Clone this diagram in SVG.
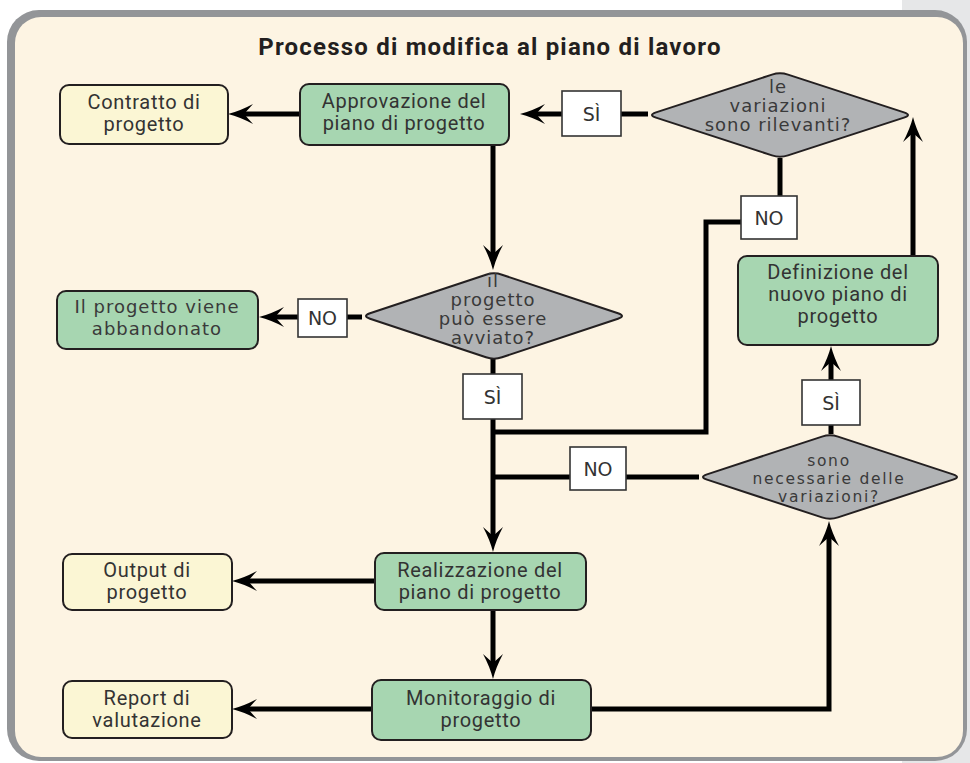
<svg xmlns="http://www.w3.org/2000/svg" width="970" height="763" viewBox="0 0 970 763">
<style>
.rect{stroke:#231f20;stroke-width:2}
.green{fill:#a7d6b1}
.yellow{fill:#fbf6d4}
.dia{fill:#b1b3b5;stroke:#231f20;stroke-width:2;stroke-linejoin:round}
.lab{fill:#ffffff;stroke:#333;stroke-width:1.6}
.din{font-family:Roboto,"DejaVu Sans Condensed",sans-serif;font-size:20px;fill:#333;text-anchor:middle;letter-spacing:0.7px}
.dv{font-family:"DejaVu Sans",sans-serif;font-size:18px;fill:#3a3a3a;text-anchor:middle;letter-spacing:1px}
.dv2{font-family:"DejaVu Sans",sans-serif;font-size:15.5px;fill:#3a3a3a;text-anchor:middle;letter-spacing:1.7px}
.lt{font-family:"DejaVu Sans",sans-serif;font-size:19px;fill:#333;text-anchor:middle}
.conn path,.conn line{stroke:#000;stroke-width:5;fill:none;stroke-linejoin:miter}
</style>
<defs>
<marker id="arr" markerUnits="userSpaceOnUse" viewBox="-14 -11 27 22" refX="0" refY="0" markerWidth="27" markerHeight="22" orient="auto">
<path d="M12,0 Q0,-3 -13,-10 L-4,0 L-13,10 Q0,3 12,0 Z" fill="#000"/>
</marker>
</defs>
<rect x="0" y="0" width="970" height="763" fill="#ffffff"/>
<rect x="902" y="0" width="68" height="763" fill="#e6e7e8"/>
<rect x="7" y="10" width="960" height="751" rx="32" fill="#939598"/>
<rect x="15" y="17" width="948" height="740" rx="26" fill="#fdf4e3"/>
<text x="490" y="55" style="font-family:Roboto,'DejaVu Sans Condensed',sans-serif;font-weight:bold;font-size:24px;fill:#231f20;text-anchor:middle;letter-spacing:1.2px">Processo di modifica al piano di lavoro</text>

<g class="conn">
<line x1="300" y1="114" x2="240" y2="114" marker-end="url(#arr)"/>
<line x1="648" y1="114" x2="621" y2="114"/>
<line x1="562" y1="114" x2="532" y2="114" marker-end="url(#arr)"/>
<line x1="780" y1="158" x2="780" y2="196"/>
<path d="M741,222 H706 V432 H493"/>
<line x1="913" y1="256" x2="913" y2="129" marker-end="url(#arr)"/>
<line x1="493" y1="145" x2="493" y2="258" marker-end="url(#arr)"/>
<line x1="362" y1="317" x2="347" y2="317"/>
<line x1="298" y1="317" x2="271" y2="317" marker-end="url(#arr)"/>
<line x1="493" y1="359" x2="493" y2="374"/>
<line x1="493" y1="419" x2="493" y2="540" marker-end="url(#arr)"/>
<line x1="699" y1="477" x2="626" y2="477"/>
<line x1="570" y1="477" x2="493" y2="477"/>
<line x1="831" y1="434" x2="831" y2="425"/>
<line x1="831" y1="380" x2="831" y2="358" marker-end="url(#arr)"/>
<line x1="375" y1="581" x2="244" y2="581" marker-end="url(#arr)"/>
<line x1="493" y1="610" x2="493" y2="667" marker-end="url(#arr)"/>
<line x1="372" y1="709" x2="244" y2="709" marker-end="url(#arr)"/>
<path d="M591,709 H829 V533" marker-end="url(#arr)"/>
</g>

<g id="contratto">
<rect class="rect yellow" x="60" y="85" width="168" height="59" rx="9"/>
<text class="din" x="144" y="109">Contratto di</text>
<text class="din" x="144" y="131">progetto</text>
</g>
<g id="approvazione">
<rect class="rect green" x="300" y="84" width="209" height="61" rx="9"/>
<text class="din" x="404" y="108">Approvazione del</text>
<text class="din" x="404" y="130">piano di progetto</text>
</g>
<g id="rilevanti">
<path class="dia" d="M656,112.4 L772,74.6 Q780,72 788,74.6 L904,112.4 Q912,115 904,117.6 L788,155.4 Q780,158 772,155.4 L656,117.6 Q648,115 656,112.4 Z"/>
<text class="dv" x="778" y="93">le</text>
<text class="dv" x="778" y="112">variazioni</text>
<text class="dv" x="778" y="131">sono rilevanti?</text>
</g>
<g id="abbandonato">
<rect class="rect green" x="57" y="291" width="201" height="58" rx="9"/>
<text class="dv" x="157" y="313">Il progetto viene</text>
<text class="dv" x="157" y="335">abbandonato</text>
</g>
<g id="avviato">
<path class="dia" d="M370,313.3 L486,274.7 Q494,272 502,274.7 L618,313.3 Q626,316 618,318.7 L502,357.3 Q494,360 486,357.3 L370,318.7 Q362,316 370,313.3 Z"/>
<text class="dv" x="493" y="287">il</text>
<text class="dv" x="493" y="306">progetto</text>
<text class="dv" x="493" y="325">può essere</text>
<text class="dv" x="493" y="344">avviato?</text>
</g>
<g id="definizione">
<rect class="rect green" x="738" y="256" width="200" height="89" rx="9"/>
<text class="din" x="838" y="279">Definizione del</text>
<text class="din" x="838" y="301">nuovo piano di</text>
<text class="din" x="838" y="323">progetto</text>
</g>
<g id="necessarie">
<path class="dia" d="M707,474.4 L822,436.6 Q830,434 838,436.6 L953,474.4 Q961,477 953,479.6 L838,517.4 Q830,520 822,517.4 L707,479.6 Q699,477 707,474.4 Z"/>
<text class="dv2" x="829" y="466">sono</text>
<text class="dv2" x="829" y="484">necessarie delle</text>
<text class="dv2" x="829" y="502">variazioni?</text>
</g>
<g id="realizzazione">
<rect class="rect green" x="375" y="553" width="211" height="57" rx="9"/>
<text class="din" x="480" y="577">Realizzazione del</text>
<text class="din" x="480" y="599">piano di progetto</text>
</g>
<g id="output">
<rect class="rect yellow" x="63" y="554" width="169" height="56" rx="9"/>
<text class="din" x="147" y="577">Output di</text>
<text class="din" x="147" y="599">progetto</text>
</g>
<g id="monitoraggio">
<rect class="rect green" x="372" y="680" width="219" height="60" rx="9"/>
<text class="din" x="481" y="705">Monitoraggio di</text>
<text class="din" x="481" y="727">progetto</text>
</g>
<g id="report">
<rect class="rect yellow" x="63" y="681" width="169" height="57" rx="9"/>
<text class="din" x="147" y="705">Report di</text>
<text class="din" x="147" y="727">valutazione</text>
</g>

<g id="label-si-1">
<rect class="lab" x="562" y="91" width="59" height="45"/>
<text class="lt" x="591.5" y="121">SÌ</text>
</g>
<g id="label-no-1">
<rect class="lab" x="741" y="196" width="56" height="43"/>
<text class="lt" x="769" y="225">NO</text>
</g>
<g id="label-no-2">
<rect class="lab" x="298" y="299" width="49" height="38"/>
<text class="lt" x="322.5" y="325">NO</text>
</g>
<g id="label-si-2">
<rect class="lab" x="463" y="374" width="59" height="45"/>
<text class="lt" x="492.5" y="404">SÌ</text>
</g>
<g id="label-no-3">
<rect class="lab" x="570" y="447" width="56" height="43"/>
<text class="lt" x="598" y="476">NO</text>
</g>
<g id="label-si-3">
<rect class="lab" x="802" y="380" width="58" height="45"/>
<text class="lt" x="831" y="410">SÌ</text>
</g>
</svg>
